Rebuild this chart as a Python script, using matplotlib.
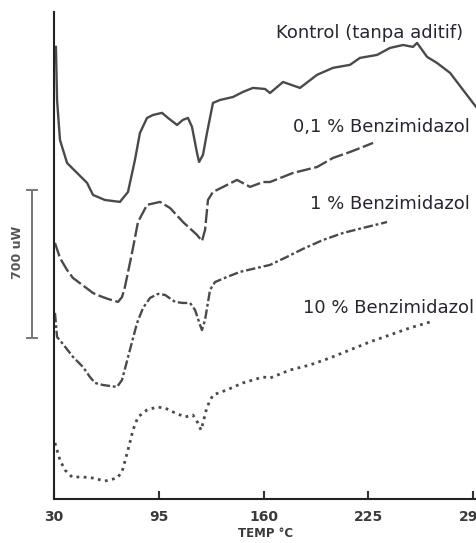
"""DSC thermograms of the control sample and the benzimidazole-loaded samples."""

import matplotlib

matplotlib.use("Agg")
import matplotlib.pyplot as plt  # noqa: E402
import matplotlib.transforms as mtransforms  # noqa: E402

# temperature (deg C) and heat flow (uW) per thermogram
kontrol_t = [31.2, 31.9, 33.7, 38.1, 44.3, 50.5, 54.2, 58.5, 61.6, 70.9, 75.9, 80.2,
             83.3, 87.7, 91.4, 97.0, 100.7, 106.3, 110.0, 113.1, 115.6, 118.7, 120.0,
             122.4, 124.9, 128.6, 133.0, 141.0, 147.2, 153.4, 160.9, 164.0, 172.1,
             182.6, 193.2, 203.1, 213.6, 219.8, 230.4, 238.4, 246.5, 252.7, 255.2,
             261.4, 267.6, 275.7, 283.7, 289.9, 292.4]
kontrol_q = [2138, 1887, 1698, 1589, 1542, 1495, 1438, 1424, 1414, 1405, 1452, 1603,
             1731, 1802, 1816, 1826, 1802, 1769, 1793, 1802, 1760, 1637, 1594,
             1627, 1731, 1873, 1887, 1901, 1925, 1944, 1939, 1920, 1972,
             1944, 2006, 2039, 2053, 2086, 2100, 2133, 2147, 2138, 2157,
             2091, 2062, 2015, 1935, 1873, 1849]

b01_t = [30.6, 33.7, 38.1, 41.8, 49.2, 54.2, 58.5, 63.5, 69.7, 72.2, 74.0, 77.1,
         79.0, 82.1, 87.7, 95.8, 102.0, 110.0, 118.7, 121.8, 123.7, 125.5, 128.6,
         137.3, 143.5, 151.6, 159.7, 164.0, 178.3, 193.2, 203.1, 213.6, 221.7, 227.9]
b01_q = [1211, 1140, 1083, 1045, 1003, 974, 960, 946, 932, 955, 1003, 1116,
         1187, 1310, 1391, 1405, 1376, 1310, 1249, 1220, 1272, 1414, 1452,
         1485, 1509, 1476, 1499, 1499, 1542, 1570, 1613, 1641, 1665, 1684]

b1_t = [30.6, 31.9, 35.0, 41.8, 48.0, 52.3, 55.4, 60.4, 69.1, 72.2, 77.1, 81.5,
        85.2, 89.6, 94.5, 98.9, 105.1, 110.0, 114.4, 117.5, 120.6, 121.8, 123.7,
        126.8, 129.9, 137.3, 145.4, 156.0, 164.0, 174.5, 184.5, 196.9, 209.3,
        221.7, 234.1, 236.6]
b1_q = [880, 766, 738, 672, 624, 577, 549, 539, 530, 563, 705, 832,
        903, 951, 970, 965, 932, 927, 927, 894, 823, 799, 847,
        989, 1026, 1050, 1074, 1093, 1107, 1145, 1183, 1225, 1258,
        1282, 1305, 1310]

b10_t = [30.6, 33.7, 36.8, 41.2, 48.0, 54.2, 61.6, 69.1, 72.2, 75.9, 79.0, 82.1,
         87.7, 93.9, 98.9, 105.1, 111.3, 116.2, 119.3, 121.2, 122.4, 124.9, 128.6,
         137.3, 147.2, 159.7, 164.0, 176.4, 188.8, 201.2, 213.6, 226.0, 238.4,
         250.8, 263.3]
b10_q = [265, 184, 137, 104, 104, 99, 85, 99, 128, 232, 326, 388,
         421, 435, 430, 407, 388, 397, 359, 326, 359, 435, 492,
         516, 549, 577, 572, 610, 634, 667, 705, 743, 776,
         809, 837]

labels = ["Kontrol (tanpa aditif)", "0,1 % Benzimidazol",
          "1 % Benzimidazol", "10 % Benzimidazol"]
label_t = [226.0, 232.9, 238.4, 237.8]
label_q = [2204, 1760, 1395, 903]

temp_ticks = [30, 95, 160, 225, 290]
scale_bottom = 760
scale_uw = 700

ink = "#4a4a4a"

fig = plt.figure(figsize=(4.77, 5.43), dpi=100)
ax = fig.add_axes([54 / 477, 44 / 543, 423 / 477, 487 / 543])

ax.plot(kontrol_t, kontrol_q, color=ink, lw=1.7, ls="-")
ax.plot(b01_t, b01_q, color=ink, lw=1.7, ls=(0, (6, 1.5)))
ax.plot(b1_t, b1_q, color=ink, lw=1.7, ls=(0, (4, 1.2, 1.2, 1.2)))
ax.plot(b10_t, b10_q, color=ink, lw=2.0, ls=(0, (1, 1.6)))

for text, t, q in zip(labels, label_t, label_q):
    ax.text(t, q, text, fontsize=13, color="#2a2430", ha="center", va="center")

# vertical scale bar left of the axis
trans = mtransforms.blended_transform_factory(ax.transAxes, ax.transData)
ax.plot([-0.052, -0.052], [scale_bottom, scale_bottom + scale_uw], color="#777777",
        lw=1.4, marker="_", ms=8, mew=1.4, transform=trans, clip_on=False)
ax.text(-0.087, scale_bottom + scale_uw * 0.58, f"{scale_uw} uW", rotation=90,
        ha="center", va="center", fontsize=9, fontweight="bold", color="#555555",
        transform=trans)

ax.set_xlim(30, 292.4)
ax.set_ylim(0, 2303)
ax.set_xticks(temp_ticks)
ax.set_yticks([])
ax.tick_params(axis="x", direction="in", length=6, width=1.5, color="#333333",
               labelsize=10, labelcolor="#3a3a3a", pad=8)
for lab in ax.get_xticklabels():
    lab.set_fontweight("bold")
ax.set_xlabel("TEMP °C", fontsize=8.5, fontweight="bold", color="#3a3a3a", labelpad=2)

for side in ("top", "right"):
    ax.spines[side].set_visible(False)
for side in ("left", "bottom"):
    ax.spines[side].set_color("#222222")
    ax.spines[side].set_linewidth(1.5)

fig.savefig("out.png", dpi=100, facecolor="white")
plt.close(fig)
